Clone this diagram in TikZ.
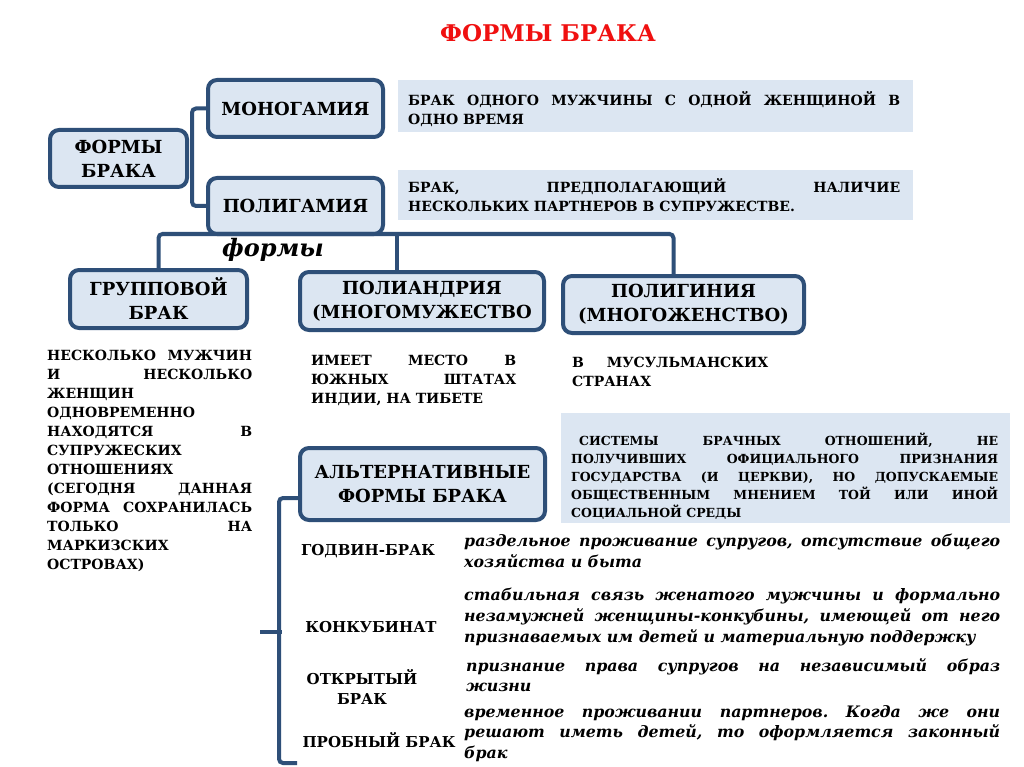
\documentclass[tikz,border=0pt]{standalone}
\usepackage{fontspec}
\setmainfont{DejaVu Serif}
\newcommand\myfs[2]{\fontsize{#1}{#2}\selectfont}
\newcommand\jline[2]{\makebox[#1][s]{#2}}
\definecolor{bord}{HTML}{2E4F78}
\definecolor{bfill}{HTML}{DCE6F2}
\definecolor{dfill}{HTML}{DCE6F2}
\definecolor{titlered}{HTML}{F01010}
\frenchspacing
\begin{document}
\begin{tikzpicture}[x=1pt,y=-1pt,
  bx/.style={draw=bord, line width=4pt, fill=bfill, rounded corners=9pt, align=center, inner sep=0pt, font=\myfs{18}{24}\bfseries},
  descbox/.style={fill=dfill, draw=none, inner sep=0pt, anchor=north west},
  conn/.style={draw=bord, line width=4pt, rounded corners=4pt},
  txt/.style={anchor=north west, inner sep=0pt, align=left, font=\myfs{14}{19}\bfseries},
  itx/.style={anchor=north west, inner sep=0pt, align=left, font=\myfs{15.8}{20.7}\bfseries\itshape},
  lbl/.style={inner sep=0pt, align=center, font=\myfs{15}{20}\bfseries}]
\useasboundingbox (0,0) rectangle (1024,767);
\fill[white] (0,0) rectangle (1024,767);

% title
\node[inner sep=0pt, text=titlered, font=\myfs{23}{28}\bfseries] (title) at (548,33) {ФОРМЫ БРАКА};

% description boxes
\node[descbox, minimum width=515pt, minimum height=52pt] (d1) at (398,80) {};
\node[descbox, minimum width=515pt, minimum height=50pt] (d2) at (398,170) {};
\node[descbox, minimum width=449pt, minimum height=110pt] (sys) at (561,413) {};

% main boxes
\node[bx, minimum width=137pt, minimum height=57pt] (formy) at (118.5,158.5) {ФОРМЫ\\БРАКА};
\node[bx, minimum width=175pt, minimum height=57pt] (mono) at (295.5,108.5) {МОНОГАМИЯ};
\node[bx, minimum width=175pt, minimum height=56pt] (polyg) at (295.5,206) {ПОЛИГАМИЯ};

% connectors level 1
\draw[conn] (mono.west) -| ([xshift=3pt]formy.east) |- (polyg.west);

% level 2 boxes
\node[bx, minimum width=177pt, minimum height=58pt] (grp) at (158.5,299) {ГРУППОВОЙ\\БРАК};
\node[bx, minimum width=244pt, minimum height=58pt] (pand) at (422,301) {ПОЛИАНДРИЯ\\(МНОГОМУЖЕСТВО};
\node[bx, minimum width=241pt, minimum height=57pt] (pgyn) at (683.5,304.5) {ПОЛИГИНИЯ\\(МНОГОЖЕНСТВО)};

\coordinate (hl) at (0,234);
\draw[conn] (grp.north) |- ([xshift=-10pt]pgyn.north |- hl) -- ([xshift=-10pt]pgyn.north);
\draw[conn] ([xshift=-25pt]pand.north) -- ([xshift=-25pt]pand.north |- hl);
\node[inner sep=0pt, font=\myfs{24}{28}\bfseries\itshape] (formslbl) at (273,250) {формы};

% texts of description boxes
\node[txt] (d1t) at (408,91) {\jline{492pt}{БРАК ОДНОГО МУЖЧИНЫ С ОДНОЙ ЖЕНЩИНОЙ В}\\ОДНО ВРЕМЯ};
\node[txt] (d2t) at (408,178) {\jline{492pt}{БРАК, ПРЕДПОЛАГАЮЩИЙ НАЛИЧИЕ}\\НЕСКОЛЬКИХ ПАРТНЕРОВ В СУПРУЖЕСТВЕ.};

% texts under level 2
\node[txt] (grpt) at (47,350) {\jline{205pt}{НЕСКОЛЬКО МУЖЧИН}\\
\jline{205pt}{И НЕСКОЛЬКО}\\ЖЕНЩИН\\ОДНОВРЕМЕННО\\
\jline{205pt}{НАХОДЯТСЯ В}\\СУПРУЖЕСКИХ\\ОТНОШЕНИЯХ\\
\jline{205pt}{(СЕГОДНЯ ДАННАЯ}\\\jline{205pt}{ФОРМА СОХРАНИЛАСЬ}\\
\jline{205pt}{ТОЛЬКО НА}\\МАРКИЗСКИХ\\ОСТРОВАХ)};
\node[txt] (pandt) at (311,355) {\jline{205pt}{ИМЕЕТ МЕСТО В}\\\jline{205pt}{ЮЖНЫХ ШТАТАХ}\\ИНДИИ, НА ТИБЕТЕ};
\node[txt] (pgynt) at (572,357) {\jline{196pt}{В МУСУЛЬМАНСКИХ}\\СТРАНАХ};

\node[txt, font=\myfs{12.5}{18}\bfseries] (syst) at (571,433) {\jline{427pt}{\kern8pt СИСТЕМЫ БРАЧНЫХ ОТНОШЕНИЙ, НЕ}\\
\jline{427pt}{ПОЛУЧИВШИХ ОФИЦИАЛЬНОГО ПРИЗНАНИЯ}\\
\jline{427pt}{ГОСУДАРСТВА (И ЦЕРКВИ), НО ДОПУСКАЕМЫЕ}\\
\jline{427pt}{ОБЩЕСТВЕННЫМ МНЕНИЕМ ТОЙ ИЛИ ИНОЙ}\\
СОЦИАЛЬНОЙ СРЕДЫ};

% alternatives
\node[bx, minimum width=245pt, minimum height=72pt] (alt) at (422.5,484) {АЛЬТЕРНАТИВНЫЕ\\ФОРМЫ БРАКА};
\coordinate (bb) at (297,763);
\coordinate (bt) at (260,632);
\draw[conn] ([yshift=-14pt]alt.west) -- ++(-19pt,0) |- (bb);
\draw[conn] (bt) -- ++(22pt,0);

\node[lbl] (godv) at (368,551) {ГОДВИН-БРАК};
\node[lbl] (konk) at (371,627) {КОНКУБИНАТ};
\node[lbl] (otkr) at (362,687) {ОТКРЫТЫЙ\\БРАК};
\node[lbl] (prob) at (379,740) {ПРОБНЫЙ БРАК};

\node[itx] (godvt) at (464,534) {\jline{536pt}{раздельное проживание супругов, отсутствие общего}\\хозяйства и быта};
\node[itx] (konkt) at (464,588) {\jline{536pt}{стабильная связь женатого мужчины и формально}\\
\jline{536pt}{незамужней женщины-конкубины, имеющей от него}\\признаваемых им детей и материальную поддержку};
\node[itx] (otkrt) at (466,658) {\jline{534pt}{признание права супругов на независимый образ}\\жизни};
\node[itx] (probt) at (464,705) {\jline{536pt}{временное проживании партнеров. Когда же они}\\
\jline{536pt}{решают иметь детей, то оформляется законный}\\брак};
\end{tikzpicture}
\end{document}
